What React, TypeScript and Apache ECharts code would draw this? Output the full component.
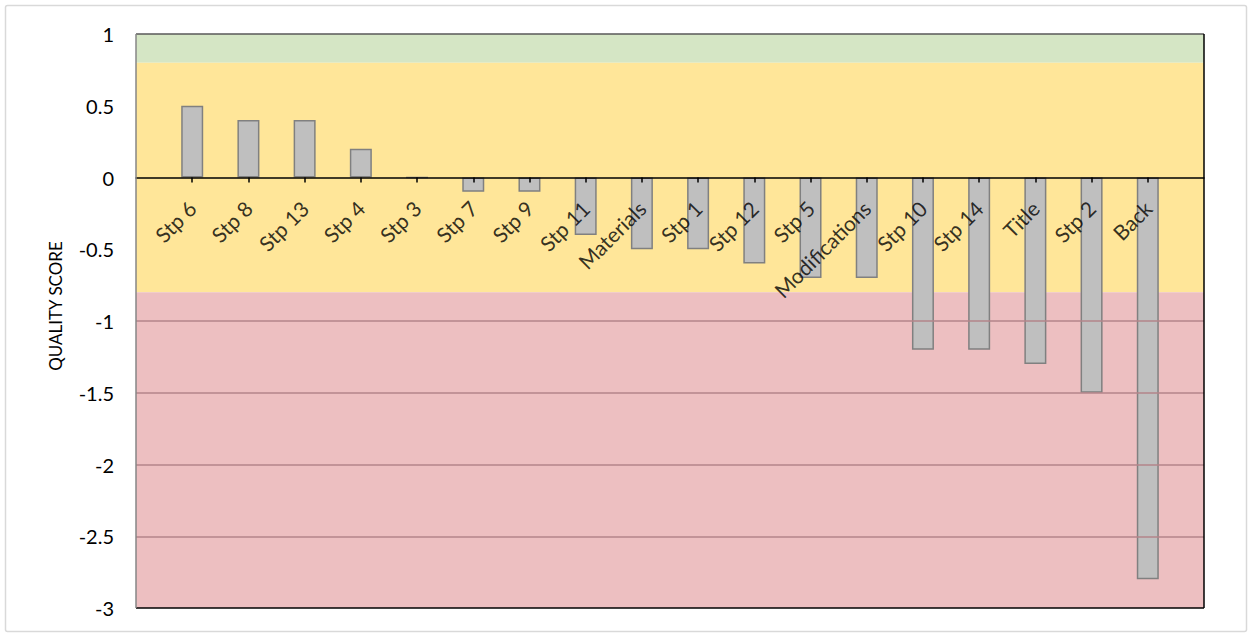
import React, { useEffect, useRef } from "react";
import * as echarts from "echarts";

const categories = ["", "Stp 6", "Stp 8", "Stp 13", "Stp 4", "Stp 3", "Stp 7", "Stp 9", "Stp 11", "Materials", "Stp 1", "Stp 12", "Stp 5", "Modifications", "Stp 10", "Stp 14", "Title", "Stp 2", "Back", ""];
const scores = [null, 0.5, 0.4, 0.4, 0.2, 0, -0.1, -0.1, -0.4, -0.5, -0.5, -0.6, -0.7, -0.7, -1.2, -1.2, -1.3, -1.5, -2.8, null];
const bands = [
  { from: 1, to: 0.8, color: "#d5e6c5" },
  { from: 0.8, to: -0.8, color: "#ffe699" },
  { from: -0.8, to: -3, color: "#edbfc1" },
];
const redGridLines = [-1, -1.5, -2, -2.5];
const yMin = -3;
const yMax = 1;
const yStep = 0.5;
const axisTitle = "QUALITY SCORE";

const FONT = "Lato, 'Open Sans', sans-serif";

export default function App() {
  const ref = useRef<HTMLDivElement>(null);
  useEffect(() => {
    if (!ref.current) return;
    const chart = echarts.init(ref.current, null, { renderer: "svg" });
    const L = 136, T = 34, R = 1204, B = 608;
    chart.setOption({
      animation: false,
      backgroundColor: "#ffffff",
      grid: { left: L, top: T, right: 1252 - R, bottom: 635 - B, containLabel: false, outerBoundsMode: "none" },
      xAxis: {
        type: "category",
        data: categories,
        boundaryGap: false,
        z: 10,
        axisLine: { onZero: true, lineStyle: { color: "#000000", width: 1.5 } },
        axisTick: {
          show: true,
          length: 5,
          lineStyle: { color: "#000000", width: 1.5 },
          interval: (i: number, v: string) => v !== "",
        },
        axisLabel: { show: false },
        splitLine: { show: false },
      },
      yAxis: {
        type: "value",
        min: yMin,
        max: yMax,
        interval: yStep,
        axisLine: { show: false },
        axisTick: { show: false },
        axisLabel: { fontSize: 20, color: "#000000", margin: 22, fontFamily: FONT },
        splitLine: { show: false },
      },
      graphic: [
        {
          type: "rect",
          shape: { x: 5.5, y: 5.5, width: 1241, height: 626, r: 2 },
          style: { fill: "none", stroke: "#d9d9d9", lineWidth: 1.5 },
          z: -1,
        },
        {
          type: "text",
          x: 55,
          y: 306,
          rotation: Math.PI / 2,
          style: { text: axisTitle, fontSize: 17, fill: "#000000", fontFamily: FONT, align: "center", verticalAlign: "middle" },
          z: 100,
        },
        { type: "line", shape: { x1: L, y1: T, x2: R, y2: T }, style: { stroke: "#595959", lineWidth: 1.5 }, z: 100 },
        { type: "line", shape: { x1: R, y1: T, x2: R, y2: B }, style: { stroke: "#000000", lineWidth: 1.5 }, z: 100 },
        { type: "line", shape: { x1: L, y1: B, x2: R, y2: B }, style: { stroke: "#000000", lineWidth: 1.5 }, z: 100 },
        { type: "line", shape: { x1: L, y1: T, x2: L, y2: B }, style: { stroke: "#868686", lineWidth: 1.5 }, z: 100 },
      ],
      series: [
        {
          type: "bar",
          data: scores,
          barWidth: 22,
          itemStyle: { color: "#bfbfbf", borderColor: "#808080", borderWidth: 1.5 },
          markArea: {
            silent: true,
            z: 1,
            data: bands.map((b) => [
              { yAxis: b.from, itemStyle: { color: b.color } },
              { yAxis: b.to },
            ]),
          },
          markLine: {
            silent: true,
            symbol: "none",
            label: { show: false },
            lineStyle: { color: "#b3858a", type: "solid", width: 1.5 },
            data: redGridLines.map((v) => ({ yAxis: v })),
          },
          z: 3,
        },
        {
          type: "scatter",
          data: categories.map((c) => (c ? 0 : null)),
          symbolSize: 0,
          silent: true,
          z: 20,
          label: {
            show: true,
            position: "bottom",
            distance: 27,
            rotate: 45,
            align: "right",
            verticalAlign: "middle",
            fontSize: 21,
            color: "#000000",
            fontFamily: FONT,
            formatter: (p: any) => p.name,
          },
        },
      ],
    });
    return () => chart.dispose();
  }, []);
  return <div ref={ref} style={{ position: "absolute", left: 0, top: 0, width: 1252, height: 635 }} />;
}
